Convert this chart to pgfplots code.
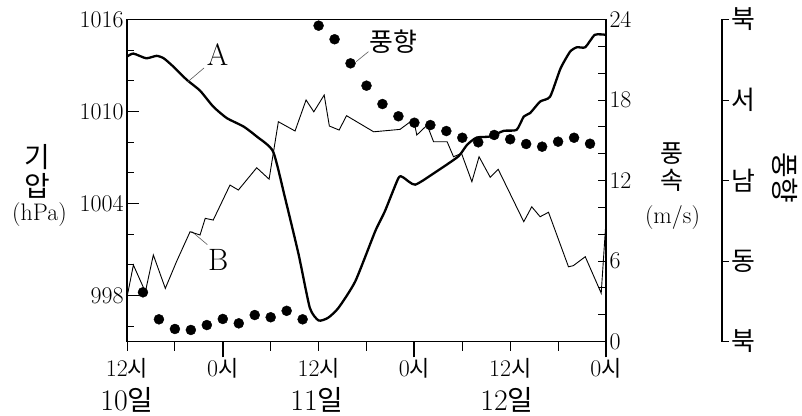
\documentclass[border=0pt]{standalone}
\usepackage{fontspec}
\usepackage{pgfplots}
\pgfplotsset{compat=1.18}
\newfontfamily\kr{Noto Sans CJK KR}
\newcommand{\tlf}{\fontsize{24}{26}\selectfont}
\newcommand{\kt}{\fontsize{22}{24}\selectfont\kr}
\newcommand{\kl}{\fontsize{26}{28}\selectfont\kr}
\newcommand{\kb}{\fontsize{28}{30}\selectfont\kr}
\newcommand{\kd}{\fontsize{28}{30}\selectfont\kr}
\newcommand{\kw}{\fontsize{25}{26}\selectfont\kr}
\begin{document}
\begin{tikzpicture}
\pgfplotsset{
  base/.style={scale only axis, width=479bp, height=322bp, at={(0,0)}, anchor=south west,
    xmin=0, xmax=60, clip=false,
    /pgf/number format/assume math mode=true,
    ticklabel style={font=\tlf},
    axis line style={-, line width=1.1bp},
    every tick/.style={black, line width=0.9bp}},
}
% pressure
\begin{axis}[base, ymin=995, ymax=1016,
  ytick={998,1004,1010,1016}, yticklabels={998,1004,1010,1016},
  minor ytick={996,1000,1002,1006,1008,1012,1014},
  ytick pos=left, tick align=inside, major tick length=12bp, minor tick length=7bp,
  xtick=\empty]
\addplot[black, line width=2.3bp, smooth, tension=0.35] coordinates {
(0,1013.58) (0.8,1013.78) (2.4,1013.47) (3.7,1013.63) (4.6,1013.47) (5.8,1012.93)
(7.5,1012.06) (9.15,1011.36) (10.8,1010.32) (12.5,1009.57) (14.6,1009.02) (16.25,1008.37)
(18.3,1007.39) (19.8,1004.36) (21.5,1000.67) (22.9,997.2) (24.0,996.37) (25.2,996.55)
(26.5,997.2) (28.6,998.93) (31.1,1002.2) (32.3,1003.49) (34.0,1005.66) (34.6,1005.7)
(36.1,1005.23) (38.8,1006.1) (41.5,1007.07) (42.6,1007.83) (43.8,1008.3) (45.5,1008.37)
(47.2,1008.74) (48.8,1008.8) (49.7,1009.67) (50.5,1009.9) (51.75,1010.65) (53.0,1010.97)
(54.3,1012.8) (55.5,1013.9) (56.35,1014.19) (57.4,1014.19) (58.6,1015.0) (60,1015.0)};
\draw[gray!70!black, line width=0.6bp] (axis cs:7.6,1011.93) -- (axis cs:9.65,1012.84);
\node[font=\fontsize{31}{33}\selectfont] at (axis cs:11.34,1013.69) {A};
\draw[gray!70!black, line width=0.6bp] (axis cs:8.1,1002.18) -- (axis cs:10.06,1001.32);
\node[font=\fontsize{31}{33}\selectfont] at (axis cs:11.44,1000.34) {B};
\draw[gray!70!black, line width=0.6bp] (axis cs:28.7,1013.25) -- (axis cs:30.24,1013.9);
\node[font=\kl] at (axis cs:33.4,1014.55) {풍향};
\end{axis}
% wind speed
\begin{axis}[base, ymin=0, ymax=24, hide x axis, axis y line*=right,
  ytick={0,6,12,18,24}, minor ytick={2,4,8,10,14,16,20,22},
  tick align=inside, major tick length=8bp, minor tick length=8bp]
\addplot[black, line width=0.9bp] coordinates {
(0,3.3) (0.8,5.7) (2.3,3.7) (3.3,6.45) (4.8,3.96) (6.2,5.95) (7.9,8.18) (9.15,7.94)
(9.8,9.18) (10.8,9.05) (12.9,11.66) (13.95,11.29) (16.25,12.95) (17.8,12.1) (18.96,16.38)
(21.05,15.69) (22.43,18.0) (23.4,17.12) (24.7,18.37) (25.35,16.06) (26.57,15.76) (27.5,16.83)
(30.9,15.63) (34.2,15.81) (35.9,16.56) (36.3,15.39) (37.6,16.13) (38.4,14.89) (40.1,14.89)
(40.9,13.77) (41.9,14.02) (43.2,11.91) (44.1,13.77) (45.5,12.24) (46.5,12.83) (49.7,8.93)
(50.7,10.04) (51.75,9.3) (52.8,9.63) (55.3,5.57) (55.9,5.65) (57.4,6.32) (59.4,3.6) (60,9.0)};
\end{axis}
% wind direction dots
\begin{axis}[base, ymin=0, ymax=360, axis lines=none]
\addplot[only marks, mark=*, mark size=5bp, black] coordinates {
(2,55.0) (4,24.8) (6,14.0) (8,12.9) (10,18.4) (12,25.2) (14,20.3) (16,29.6) (18,27.1)
(20,34.3) (22,24.8) (24,353.1) (26,337.9) (28,311.0) (30,286.0) (32,265.5) (34,251.8)
(36,244.6) (38,242.0) (40,235.3) (42,227.8) (44,222.7) (46,230.9) (48,226.1) (50,220.8)
(52,217.8) (54,223.4) (56,227.8) (58,221.1)};
\end{axis}
% wind direction scale
\begin{axis}[base, at={(116bp,0)}, ymin=0, ymax=360, hide x axis, axis y line*=right,
  tick align=outside, major tick length=7bp,
  ytick={0,90,180,270,360}, yticklabels={북,동,남,서,북},
  yticklabel style={font=\kl, inner sep=2bp}]
\end{axis}
% time axis
\begin{axis}[base, ymin=0, ymax=1, hide y axis, axis x line*=bottom,
  tick align=outside, major tick length=9bp, minor tick length=9bp,
  xtick={0,12,24,36,48,60},
  xticklabels={12{\kt 시},0{\kt 시},12{\kt 시},0{\kt 시},12{\kt 시},0{\kt 시}},
  xticklabel style={anchor=base, yshift=-25.5bp},
  minor xtick={6,18,30,42,54},
  extra x ticks={12,36,60}, extra x tick labels={{},{},{}},
  extra x tick style={major tick length=16bp, tick style={line width=2bp}}]
\node[anchor=base, font=\fontsize{30}{32}\selectfont] at (axis cs:0,0) [yshift=-69bp] {10{\kd 일}};
\node[anchor=base, font=\fontsize{30}{32}\selectfont] at (axis cs:23.8,0) [yshift=-69bp] {11{\kd 일}};
\node[anchor=base, font=\fontsize{30}{32}\selectfont] at (axis cs:47.6,0) [yshift=-69bp] {12{\kd 일}};
\end{axis}
% axis titles
\node[font=\kb] at (-89.5bp,184.5bp) {기};
\node[font=\kb] at (-89.5bp,155.5bp) {압};
\node[font=\fontsize{24}{26}\selectfont] at (-87.5bp,126.5bp) {(hPa)};
\node[font=\kw] at (544.5bp,187.5bp) {풍};
\node[font=\kw] at (544.5bp,161.5bp) {속};
\node[font=\fontsize{24}{26}\selectfont] at (545.5bp,124bp) {(m/s)};
\node[font=\kb, rotate=-90] at (658bp,163.5bp) {풍향};
\path (-127bp,-74.5bp) rectangle (675bp,341.5bp);
\end{tikzpicture}
\end{document}
